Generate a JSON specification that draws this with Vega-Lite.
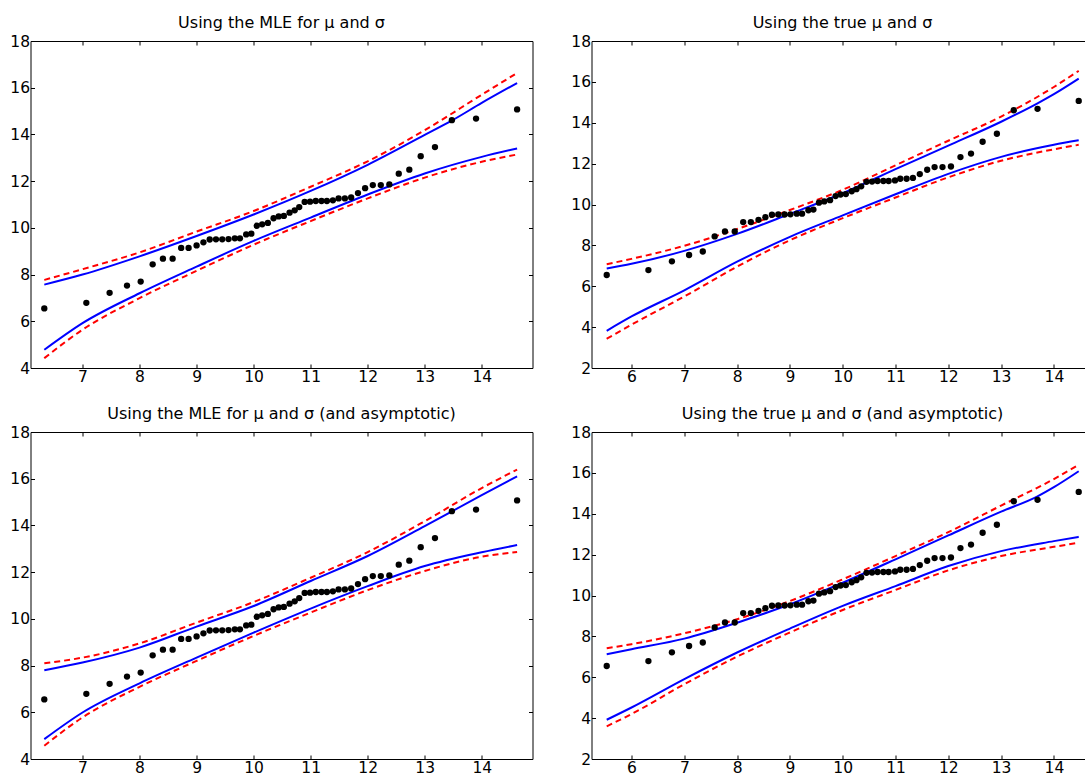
{
  "$schema": "https://vega.github.io/schema/vega-lite/v6.json",
  "background": "white",
  "padding": {"left": 8.5, "top": 14, "right": 0, "bottom": 0},
  "config": {
    "view": {"stroke": "#000000", "strokeWidth": 1},
    "axis": {"domain": false, "grid": false, "ticks": true, "tickColor": "#000000", "tickSize": -4, "tickWidth": 1, "labelFont": "DejaVu Sans", "labelFontSize": 15.5, "labelColor": "#000000", "labelPadding": 5, "labelFlush": false, "labelOverlap": false},
    "title": {"font": "DejaVu Sans", "fontSize": 16, "fontWeight": "normal", "color": "#000000", "baseline": "alphabetic", "offset": 2.7, "anchor": "middle"},
    "concat": {"spacing": 36}
  },
  "datasets": {
    "pts": [
      {"i": 1, "y": 6.55, "xm": 6.33, "xt": 5.53},
      {"i": 2, "y": 6.79, "xm": 7.067, "xt": 6.32},
      {"i": 3, "y": 7.22, "xm": 7.475, "xt": 6.765},
      {"i": 4, "y": 7.53, "xm": 7.78, "xt": 7.09},
      {"i": 5, "y": 7.70, "xm": 8.02, "xt": 7.35},
      {"i": 6, "y": 8.44, "xm": 8.23, "xt": 7.575},
      {"i": 7, "y": 8.68, "xm": 8.41, "xt": 7.77},
      {"i": 8, "y": 8.68, "xm": 8.58, "xt": 7.955},
      {"i": 9, "y": 9.14, "xm": 8.73, "xt": 8.115},
      {"i": 10, "y": 9.14, "xm": 8.86, "xt": 8.26},
      {"i": 11, "y": 9.25, "xm": 9.0, "xt": 8.405},
      {"i": 12, "y": 9.38, "xm": 9.12, "xt": 8.535},
      {"i": 13, "y": 9.50, "xm": 9.23, "xt": 8.66},
      {"i": 14, "y": 9.51, "xm": 9.34, "xt": 8.78},
      {"i": 15, "y": 9.51, "xm": 9.45, "xt": 8.9},
      {"i": 16, "y": 9.52, "xm": 9.56, "xt": 9.01},
      {"i": 17, "y": 9.55, "xm": 9.67, "xt": 9.13},
      {"i": 18, "y": 9.55, "xm": 9.76, "xt": 9.23},
      {"i": 19, "y": 9.72, "xm": 9.87, "xt": 9.35},
      {"i": 20, "y": 9.75, "xm": 9.96, "xt": 9.445},
      {"i": 21, "y": 10.09, "xm": 10.055, "xt": 9.55},
      {"i": 22, "y": 10.15, "xm": 10.15, "xt": 9.65},
      {"i": 23, "y": 10.21, "xm": 10.25, "xt": 9.76},
      {"i": 24, "y": 10.41, "xm": 10.35, "xt": 9.865},
      {"i": 25, "y": 10.49, "xm": 10.44, "xt": 9.96},
      {"i": 26, "y": 10.51, "xm": 10.53, "xt": 10.06},
      {"i": 27, "y": 10.65, "xm": 10.63, "xt": 10.17},
      {"i": 28, "y": 10.75, "xm": 10.72, "xt": 10.26},
      {"i": 29, "y": 10.89, "xm": 10.80, "xt": 10.35},
      {"i": 30, "y": 11.11, "xm": 10.895, "xt": 10.45},
      {"i": 31, "y": 11.12, "xm": 10.99, "xt": 10.555},
      {"i": 32, "y": 11.15, "xm": 11.09, "xt": 10.66},
      {"i": 33, "y": 11.15, "xm": 11.19, "xt": 10.77},
      {"i": 34, "y": 11.15, "xm": 11.285, "xt": 10.87},
      {"i": 35, "y": 11.18, "xm": 11.39, "xt": 10.99},
      {"i": 36, "y": 11.26, "xm": 11.49, "xt": 11.09},
      {"i": 37, "y": 11.26, "xm": 11.60, "xt": 11.21},
      {"i": 38, "y": 11.30, "xm": 11.71, "xt": 11.33},
      {"i": 39, "y": 11.49, "xm": 11.83, "xt": 11.46},
      {"i": 40, "y": 11.70, "xm": 11.955, "xt": 11.6},
      {"i": 41, "y": 11.83, "xm": 12.09, "xt": 11.74},
      {"i": 42, "y": 11.83, "xm": 12.23, "xt": 11.89},
      {"i": 43, "y": 11.86, "xm": 12.38, "xt": 12.05},
      {"i": 44, "y": 12.32, "xm": 12.545, "xt": 12.23},
      {"i": 45, "y": 12.49, "xm": 12.73, "xt": 12.43},
      {"i": 46, "y": 13.07, "xm": 12.93, "xt": 12.65},
      {"i": 47, "y": 13.46, "xm": 13.18, "xt": 12.92},
      {"i": 48, "y": 14.61, "xm": 13.476, "xt": 13.24},
      {"i": 49, "y": 14.68, "xm": 13.90, "xt": 13.69},
      {"i": 50, "y": 15.07, "xm": 14.62, "xt": 14.47}
    ],
    "bands": [
      {"panel": "p1", "band": "A", "side": "upper", "x": 6.33, "y": 7.57},
      {"panel": "p1", "band": "A", "side": "upper", "x": 7, "y": 8.0},
      {"panel": "p1", "band": "A", "side": "upper", "x": 8, "y": 8.78},
      {"panel": "p1", "band": "A", "side": "upper", "x": 9, "y": 9.65},
      {"panel": "p1", "band": "A", "side": "upper", "x": 10, "y": 10.57},
      {"panel": "p1", "band": "A", "side": "upper", "x": 11, "y": 11.58},
      {"panel": "p1", "band": "A", "side": "upper", "x": 12, "y": 12.7},
      {"panel": "p1", "band": "A", "side": "upper", "x": 13, "y": 13.98},
      {"panel": "p1", "band": "A", "side": "upper", "x": 13.48, "y": 14.6},
      {"panel": "p1", "band": "A", "side": "upper", "x": 14, "y": 15.35},
      {"panel": "p1", "band": "A", "side": "upper", "x": 14.62, "y": 16.2},
      {"panel": "p1", "band": "A", "side": "lower", "x": 6.33, "y": 4.78},
      {"panel": "p1", "band": "A", "side": "lower", "x": 7, "y": 5.92},
      {"panel": "p1", "band": "A", "side": "lower", "x": 8, "y": 7.2},
      {"panel": "p1", "band": "A", "side": "lower", "x": 9, "y": 8.34},
      {"panel": "p1", "band": "A", "side": "lower", "x": 10, "y": 9.44},
      {"panel": "p1", "band": "A", "side": "lower", "x": 11, "y": 10.44},
      {"panel": "p1", "band": "A", "side": "lower", "x": 12, "y": 11.43},
      {"panel": "p1", "band": "A", "side": "lower", "x": 13, "y": 12.33},
      {"panel": "p1", "band": "A", "side": "lower", "x": 14, "y": 13.04},
      {"panel": "p1", "band": "A", "side": "lower", "x": 14.62, "y": 13.4},
      {"panel": "p1", "band": "B", "side": "upper", "x": 6.33, "y": 7.77},
      {"panel": "p1", "band": "B", "side": "upper", "x": 7, "y": 8.23},
      {"panel": "p1", "band": "B", "side": "upper", "x": 8, "y": 8.95},
      {"panel": "p1", "band": "B", "side": "upper", "x": 9, "y": 9.84},
      {"panel": "p1", "band": "B", "side": "upper", "x": 10, "y": 10.72},
      {"panel": "p1", "band": "B", "side": "upper", "x": 11, "y": 11.76},
      {"panel": "p1", "band": "B", "side": "upper", "x": 12, "y": 12.85},
      {"panel": "p1", "band": "B", "side": "upper", "x": 13, "y": 14.18},
      {"panel": "p1", "band": "B", "side": "upper", "x": 14, "y": 15.7},
      {"panel": "p1", "band": "B", "side": "upper", "x": 14.62, "y": 16.63},
      {"panel": "p1", "band": "B", "side": "lower", "x": 6.33, "y": 4.42},
      {"panel": "p1", "band": "B", "side": "lower", "x": 7, "y": 5.64},
      {"panel": "p1", "band": "B", "side": "lower", "x": 8, "y": 6.99},
      {"panel": "p1", "band": "B", "side": "lower", "x": 9, "y": 8.16},
      {"panel": "p1", "band": "B", "side": "lower", "x": 10, "y": 9.28},
      {"panel": "p1", "band": "B", "side": "lower", "x": 11, "y": 10.29},
      {"panel": "p1", "band": "B", "side": "lower", "x": 12, "y": 11.26},
      {"panel": "p1", "band": "B", "side": "lower", "x": 13, "y": 12.15},
      {"panel": "p1", "band": "B", "side": "lower", "x": 14, "y": 12.83},
      {"panel": "p1", "band": "B", "side": "lower", "x": 14.62, "y": 13.14},

      {"panel": "p2", "band": "A", "side": "upper", "x": 5.53, "y": 6.87},
      {"panel": "p2", "band": "A", "side": "upper", "x": 6, "y": 7.1},
      {"panel": "p2", "band": "A", "side": "upper", "x": 7, "y": 7.73},
      {"panel": "p2", "band": "A", "side": "upper", "x": 8, "y": 8.56},
      {"panel": "p2", "band": "A", "side": "upper", "x": 9, "y": 9.54},
      {"panel": "p2", "band": "A", "side": "upper", "x": 10, "y": 10.55},
      {"panel": "p2", "band": "A", "side": "upper", "x": 11, "y": 11.73},
      {"panel": "p2", "band": "A", "side": "upper", "x": 12, "y": 12.88},
      {"panel": "p2", "band": "A", "side": "upper", "x": 13, "y": 14.05},
      {"panel": "p2", "band": "A", "side": "upper", "x": 13.69, "y": 14.95},
      {"panel": "p2", "band": "A", "side": "upper", "x": 14, "y": 15.4},
      {"panel": "p2", "band": "A", "side": "upper", "x": 14.47, "y": 16.16},
      {"panel": "p2", "band": "A", "side": "lower", "x": 5.53, "y": 3.82},
      {"panel": "p2", "band": "A", "side": "lower", "x": 6, "y": 4.52},
      {"panel": "p2", "band": "A", "side": "lower", "x": 7, "y": 5.8},
      {"panel": "p2", "band": "A", "side": "lower", "x": 8, "y": 7.2},
      {"panel": "p2", "band": "A", "side": "lower", "x": 9, "y": 8.42},
      {"panel": "p2", "band": "A", "side": "lower", "x": 10, "y": 9.47},
      {"panel": "p2", "band": "A", "side": "lower", "x": 11, "y": 10.5},
      {"panel": "p2", "band": "A", "side": "lower", "x": 12, "y": 11.5},
      {"panel": "p2", "band": "A", "side": "lower", "x": 13, "y": 12.33},
      {"panel": "p2", "band": "A", "side": "lower", "x": 14, "y": 12.92},
      {"panel": "p2", "band": "A", "side": "lower", "x": 14.47, "y": 13.14},
      {"panel": "p2", "band": "B", "side": "upper", "x": 5.53, "y": 7.08},
      {"panel": "p2", "band": "B", "side": "upper", "x": 6, "y": 7.34},
      {"panel": "p2", "band": "B", "side": "upper", "x": 7, "y": 7.98},
      {"panel": "p2", "band": "B", "side": "upper", "x": 8, "y": 8.8},
      {"panel": "p2", "band": "B", "side": "upper", "x": 9, "y": 9.73},
      {"panel": "p2", "band": "B", "side": "upper", "x": 10, "y": 10.72},
      {"panel": "p2", "band": "B", "side": "upper", "x": 11, "y": 11.92},
      {"panel": "p2", "band": "B", "side": "upper", "x": 12, "y": 13.12},
      {"panel": "p2", "band": "B", "side": "upper", "x": 13, "y": 14.3},
      {"panel": "p2", "band": "B", "side": "upper", "x": 14, "y": 15.75},
      {"panel": "p2", "band": "B", "side": "upper", "x": 14.47, "y": 16.54},
      {"panel": "p2", "band": "B", "side": "lower", "x": 5.53, "y": 3.43},
      {"panel": "p2", "band": "B", "side": "lower", "x": 6, "y": 4.12},
      {"panel": "p2", "band": "B", "side": "lower", "x": 7, "y": 5.5},
      {"panel": "p2", "band": "B", "side": "lower", "x": 8, "y": 6.96},
      {"panel": "p2", "band": "B", "side": "lower", "x": 9, "y": 8.25},
      {"panel": "p2", "band": "B", "side": "lower", "x": 10, "y": 9.33},
      {"panel": "p2", "band": "B", "side": "lower", "x": 11, "y": 10.34},
      {"panel": "p2", "band": "B", "side": "lower", "x": 12, "y": 11.33},
      {"panel": "p2", "band": "B", "side": "lower", "x": 13, "y": 12.14},
      {"panel": "p2", "band": "B", "side": "lower", "x": 14, "y": 12.7},
      {"panel": "p2", "band": "B", "side": "lower", "x": 14.47, "y": 12.92},

      {"panel": "p3", "band": "A", "side": "upper", "x": 6.33, "y": 7.8},
      {"panel": "p3", "band": "A", "side": "upper", "x": 7, "y": 8.13},
      {"panel": "p3", "band": "A", "side": "upper", "x": 8, "y": 8.77},
      {"panel": "p3", "band": "A", "side": "upper", "x": 9, "y": 9.67},
      {"panel": "p3", "band": "A", "side": "upper", "x": 10, "y": 10.55},
      {"panel": "p3", "band": "A", "side": "upper", "x": 11, "y": 11.62},
      {"panel": "p3", "band": "A", "side": "upper", "x": 12, "y": 12.69},
      {"panel": "p3", "band": "A", "side": "upper", "x": 13, "y": 13.97},
      {"panel": "p3", "band": "A", "side": "upper", "x": 14, "y": 15.3},
      {"panel": "p3", "band": "A", "side": "upper", "x": 14.62, "y": 16.1},
      {"panel": "p3", "band": "A", "side": "lower", "x": 6.33, "y": 4.85},
      {"panel": "p3", "band": "A", "side": "lower", "x": 7, "y": 5.99},
      {"panel": "p3", "band": "A", "side": "lower", "x": 8, "y": 7.24},
      {"panel": "p3", "band": "A", "side": "lower", "x": 9, "y": 8.34},
      {"panel": "p3", "band": "A", "side": "lower", "x": 10, "y": 9.41},
      {"panel": "p3", "band": "A", "side": "lower", "x": 11, "y": 10.44},
      {"panel": "p3", "band": "A", "side": "lower", "x": 12, "y": 11.4},
      {"panel": "p3", "band": "A", "side": "lower", "x": 13, "y": 12.26},
      {"panel": "p3", "band": "A", "side": "lower", "x": 14, "y": 12.85},
      {"panel": "p3", "band": "A", "side": "lower", "x": 14.62, "y": 13.16},
      {"panel": "p3", "band": "B", "side": "upper", "x": 6.33, "y": 8.1},
      {"panel": "p3", "band": "B", "side": "upper", "x": 7, "y": 8.34},
      {"panel": "p3", "band": "B", "side": "upper", "x": 8, "y": 8.95},
      {"panel": "p3", "band": "B", "side": "upper", "x": 9, "y": 9.84},
      {"panel": "p3", "band": "B", "side": "upper", "x": 10, "y": 10.72},
      {"panel": "p3", "band": "B", "side": "upper", "x": 11, "y": 11.76},
      {"panel": "p3", "band": "B", "side": "upper", "x": 12, "y": 12.86},
      {"panel": "p3", "band": "B", "side": "upper", "x": 13, "y": 14.18},
      {"panel": "p3", "band": "B", "side": "upper", "x": 14, "y": 15.6},
      {"panel": "p3", "band": "B", "side": "upper", "x": 14.62, "y": 16.39},
      {"panel": "p3", "band": "B", "side": "lower", "x": 6.33, "y": 4.57},
      {"panel": "p3", "band": "B", "side": "lower", "x": 7, "y": 5.78},
      {"panel": "p3", "band": "B", "side": "lower", "x": 8, "y": 7.09},
      {"panel": "p3", "band": "B", "side": "lower", "x": 9, "y": 8.2},
      {"panel": "p3", "band": "B", "side": "lower", "x": 10, "y": 9.27},
      {"panel": "p3", "band": "B", "side": "lower", "x": 11, "y": 10.27},
      {"panel": "p3", "band": "B", "side": "lower", "x": 12, "y": 11.23},
      {"panel": "p3", "band": "B", "side": "lower", "x": 13, "y": 12.05},
      {"panel": "p3", "band": "B", "side": "lower", "x": 14, "y": 12.66},
      {"panel": "p3", "band": "B", "side": "lower", "x": 14.62, "y": 12.86},

      {"panel": "p4", "band": "A", "side": "upper", "x": 5.53, "y": 7.13},
      {"panel": "p4", "band": "A", "side": "upper", "x": 6, "y": 7.37},
      {"panel": "p4", "band": "A", "side": "upper", "x": 7, "y": 7.89},
      {"panel": "p4", "band": "A", "side": "upper", "x": 8, "y": 8.67},
      {"panel": "p4", "band": "A", "side": "upper", "x": 9, "y": 9.57},
      {"panel": "p4", "band": "A", "side": "upper", "x": 10, "y": 10.63},
      {"panel": "p4", "band": "A", "side": "upper", "x": 11, "y": 11.77},
      {"panel": "p4", "band": "A", "side": "upper", "x": 12, "y": 12.94},
      {"panel": "p4", "band": "A", "side": "upper", "x": 13, "y": 14.1},
      {"panel": "p4", "band": "A", "side": "upper", "x": 13.69, "y": 14.85},
      {"panel": "p4", "band": "A", "side": "upper", "x": 14, "y": 15.3},
      {"panel": "p4", "band": "A", "side": "upper", "x": 14.47, "y": 16.08},
      {"panel": "p4", "band": "A", "side": "lower", "x": 5.53, "y": 3.92},
      {"panel": "p4", "band": "A", "side": "lower", "x": 6, "y": 4.52},
      {"panel": "p4", "band": "A", "side": "lower", "x": 7, "y": 5.91},
      {"panel": "p4", "band": "A", "side": "lower", "x": 8, "y": 7.21},
      {"panel": "p4", "band": "A", "side": "lower", "x": 9, "y": 8.38},
      {"panel": "p4", "band": "A", "side": "lower", "x": 10, "y": 9.49},
      {"panel": "p4", "band": "A", "side": "lower", "x": 11, "y": 10.46},
      {"panel": "p4", "band": "A", "side": "lower", "x": 12, "y": 11.44},
      {"panel": "p4", "band": "A", "side": "lower", "x": 13, "y": 12.17},
      {"panel": "p4", "band": "A", "side": "lower", "x": 14, "y": 12.66},
      {"panel": "p4", "band": "A", "side": "lower", "x": 14.47, "y": 12.87},
      {"panel": "p4", "band": "B", "side": "upper", "x": 5.53, "y": 7.42},
      {"panel": "p4", "band": "B", "side": "upper", "x": 6, "y": 7.62},
      {"panel": "p4", "band": "B", "side": "upper", "x": 7, "y": 8.15},
      {"panel": "p4", "band": "B", "side": "upper", "x": 8, "y": 8.84},
      {"panel": "p4", "band": "B", "side": "upper", "x": 9, "y": 9.73},
      {"panel": "p4", "band": "B", "side": "upper", "x": 10, "y": 10.79},
      {"panel": "p4", "band": "B", "side": "upper", "x": 11, "y": 11.93},
      {"panel": "p4", "band": "B", "side": "upper", "x": 12, "y": 13.1},
      {"panel": "p4", "band": "B", "side": "upper", "x": 13, "y": 14.4},
      {"panel": "p4", "band": "B", "side": "upper", "x": 14, "y": 15.7},
      {"panel": "p4", "band": "B", "side": "upper", "x": 14.47, "y": 16.4},
      {"panel": "p4", "band": "B", "side": "lower", "x": 5.53, "y": 3.6},
      {"panel": "p4", "band": "B", "side": "lower", "x": 6, "y": 4.2},
      {"panel": "p4", "band": "B", "side": "lower", "x": 7, "y": 5.66},
      {"panel": "p4", "band": "B", "side": "lower", "x": 8, "y": 7.01},
      {"panel": "p4", "band": "B", "side": "lower", "x": 9, "y": 8.19},
      {"panel": "p4", "band": "B", "side": "lower", "x": 10, "y": 9.29},
      {"panel": "p4", "band": "B", "side": "lower", "x": 11, "y": 10.27},
      {"panel": "p4", "band": "B", "side": "lower", "x": 12, "y": 11.23},
      {"panel": "p4", "band": "B", "side": "lower", "x": 13, "y": 11.93},
      {"panel": "p4", "band": "B", "side": "lower", "x": 14, "y": 12.38},
      {"panel": "p4", "band": "B", "side": "lower", "x": 14.47, "y": 12.58}
    ]
  },
  "columns": 2,
  "spacing": {"column": 36, "row": 20},
  "concat": [
    {
      "title": "Using the MLE for μ and σ",
      "width": 502, "height": 327,
      "resolve": {"axis": {"x": "independent", "y": "independent"}},
      "layer": [
        {"data": {"name": "bands"}, "transform": [{"filter": "datum.panel === 'p1' && datum.band === 'A'"}],
         "mark": {"type": "line", "color": "#0000ff", "strokeWidth": 2, "interpolate": "monotone"},
         "encoding": {
           "x": {"field": "x", "type": "quantitative", "title": null, "scale": {"domain": [6.088, 14.89], "nice": false, "zero": false}, "axis": {"orient": "bottom", "values": [7, 8, 9, 10, 11, 12, 13, 14]}},
           "y": {"field": "y", "type": "quantitative", "title": null, "scale": {"domain": [4, 18], "nice": false, "zero": false}, "axis": {"orient": "left", "values": [4, 6, 8, 10, 12, 14, 16, 18]}},
           "detail": {"field": "side"}}},
        {"data": {"name": "bands"}, "transform": [{"filter": "datum.panel === 'p1' && datum.band === 'B'"}],
         "mark": {"type": "line", "color": "#ff0000", "strokeWidth": 2, "strokeDash": [6, 4], "interpolate": "monotone"},
         "encoding": {
           "x": {"field": "x", "type": "quantitative", "title": null, "axis": null},
           "y": {"field": "y", "type": "quantitative", "title": null, "axis": null},
           "detail": {"field": "side"}}},
        {"data": {"name": "pts"},
         "mark": {"type": "point", "shape": "circle", "filled": true, "color": "#000000", "opacity": 1, "size": 40},
         "encoding": {
           "x": {"field": "xm", "type": "quantitative", "title": null, "axis": {"orient": "top", "labels": false, "values": [7, 8, 9, 10, 11, 12, 13, 14]}},
           "y": {"field": "y", "type": "quantitative", "title": null, "axis": {"orient": "right", "labels": false, "values": [4, 6, 8, 10, 12, 14, 16, 18]}}}}
      ]
    },
    {
      "title": "Using the true μ and σ",
      "width": 502, "height": 327,
      "resolve": {"axis": {"x": "independent", "y": "independent"}},
      "layer": [
        {"data": {"name": "bands"}, "transform": [{"filter": "datum.panel === 'p2' && datum.band === 'A'"}],
         "mark": {"type": "line", "color": "#0000ff", "strokeWidth": 2, "interpolate": "monotone"},
         "encoding": {
           "x": {"field": "x", "type": "quantitative", "title": null, "scale": {"domain": [5.242, 14.75], "nice": false, "zero": false}, "axis": {"orient": "bottom", "values": [6, 7, 8, 9, 10, 11, 12, 13, 14]}},
           "y": {"field": "y", "type": "quantitative", "title": null, "scale": {"domain": [2, 18], "nice": false, "zero": false}, "axis": {"orient": "left", "values": [2, 4, 6, 8, 10, 12, 14, 16, 18]}},
           "detail": {"field": "side"}}},
        {"data": {"name": "bands"}, "transform": [{"filter": "datum.panel === 'p2' && datum.band === 'B'"}],
         "mark": {"type": "line", "color": "#ff0000", "strokeWidth": 2, "strokeDash": [6, 4], "interpolate": "monotone"},
         "encoding": {
           "x": {"field": "x", "type": "quantitative", "title": null, "axis": null},
           "y": {"field": "y", "type": "quantitative", "title": null, "axis": null},
           "detail": {"field": "side"}}},
        {"data": {"name": "pts"},
         "mark": {"type": "point", "shape": "circle", "filled": true, "color": "#000000", "opacity": 1, "size": 40},
         "encoding": {
           "x": {"field": "xt", "type": "quantitative", "title": null, "axis": {"orient": "top", "labels": false, "values": [6, 7, 8, 9, 10, 11, 12, 13, 14]}},
           "y": {"field": "y", "type": "quantitative", "title": null, "axis": {"orient": "right", "labels": false, "values": [2, 4, 6, 8, 10, 12, 14, 16, 18]}}}}
      ]
    },
    {
      "title": "Using the MLE for μ and σ (and asymptotic)",
      "width": 502, "height": 327,
      "resolve": {"axis": {"x": "independent", "y": "independent"}},
      "layer": [
        {"data": {"name": "bands"}, "transform": [{"filter": "datum.panel === 'p3' && datum.band === 'A'"}],
         "mark": {"type": "line", "color": "#0000ff", "strokeWidth": 2, "interpolate": "monotone"},
         "encoding": {
           "x": {"field": "x", "type": "quantitative", "title": null, "scale": {"domain": [6.088, 14.89], "nice": false, "zero": false}, "axis": {"orient": "bottom", "values": [7, 8, 9, 10, 11, 12, 13, 14]}},
           "y": {"field": "y", "type": "quantitative", "title": null, "scale": {"domain": [4, 18], "nice": false, "zero": false}, "axis": {"orient": "left", "values": [4, 6, 8, 10, 12, 14, 16, 18]}},
           "detail": {"field": "side"}}},
        {"data": {"name": "bands"}, "transform": [{"filter": "datum.panel === 'p3' && datum.band === 'B'"}],
         "mark": {"type": "line", "color": "#ff0000", "strokeWidth": 2, "strokeDash": [6, 4], "interpolate": "monotone"},
         "encoding": {
           "x": {"field": "x", "type": "quantitative", "title": null, "axis": null},
           "y": {"field": "y", "type": "quantitative", "title": null, "axis": null},
           "detail": {"field": "side"}}},
        {"data": {"name": "pts"},
         "mark": {"type": "point", "shape": "circle", "filled": true, "color": "#000000", "opacity": 1, "size": 40},
         "encoding": {
           "x": {"field": "xm", "type": "quantitative", "title": null, "axis": {"orient": "top", "labels": false, "values": [7, 8, 9, 10, 11, 12, 13, 14]}},
           "y": {"field": "y", "type": "quantitative", "title": null, "axis": {"orient": "right", "labels": false, "values": [4, 6, 8, 10, 12, 14, 16, 18]}}}}
      ]
    },
    {
      "title": "Using the true μ and σ (and asymptotic)",
      "width": 502, "height": 327,
      "resolve": {"axis": {"x": "independent", "y": "independent"}},
      "layer": [
        {"data": {"name": "bands"}, "transform": [{"filter": "datum.panel === 'p4' && datum.band === 'A'"}],
         "mark": {"type": "line", "color": "#0000ff", "strokeWidth": 2, "interpolate": "monotone"},
         "encoding": {
           "x": {"field": "x", "type": "quantitative", "title": null, "scale": {"domain": [5.242, 14.75], "nice": false, "zero": false}, "axis": {"orient": "bottom", "values": [6, 7, 8, 9, 10, 11, 12, 13, 14]}},
           "y": {"field": "y", "type": "quantitative", "title": null, "scale": {"domain": [2, 18], "nice": false, "zero": false}, "axis": {"orient": "left", "values": [2, 4, 6, 8, 10, 12, 14, 16, 18]}},
           "detail": {"field": "side"}}},
        {"data": {"name": "bands"}, "transform": [{"filter": "datum.panel === 'p4' && datum.band === 'B'"}],
         "mark": {"type": "line", "color": "#ff0000", "strokeWidth": 2, "strokeDash": [6, 4], "interpolate": "monotone"},
         "encoding": {
           "x": {"field": "x", "type": "quantitative", "title": null, "axis": null},
           "y": {"field": "y", "type": "quantitative", "title": null, "axis": null},
           "detail": {"field": "side"}}},
        {"data": {"name": "pts"},
         "mark": {"type": "point", "shape": "circle", "filled": true, "color": "#000000", "opacity": 1, "size": 40},
         "encoding": {
           "x": {"field": "xt", "type": "quantitative", "title": null, "axis": {"orient": "top", "labels": false, "values": [6, 7, 8, 9, 10, 11, 12, 13, 14]}},
           "y": {"field": "y", "type": "quantitative", "title": null, "axis": {"orient": "right", "labels": false, "values": [2, 4, 6, 8, 10, 12, 14, 16, 18]}}}}
      ]
    }
  ]
}
